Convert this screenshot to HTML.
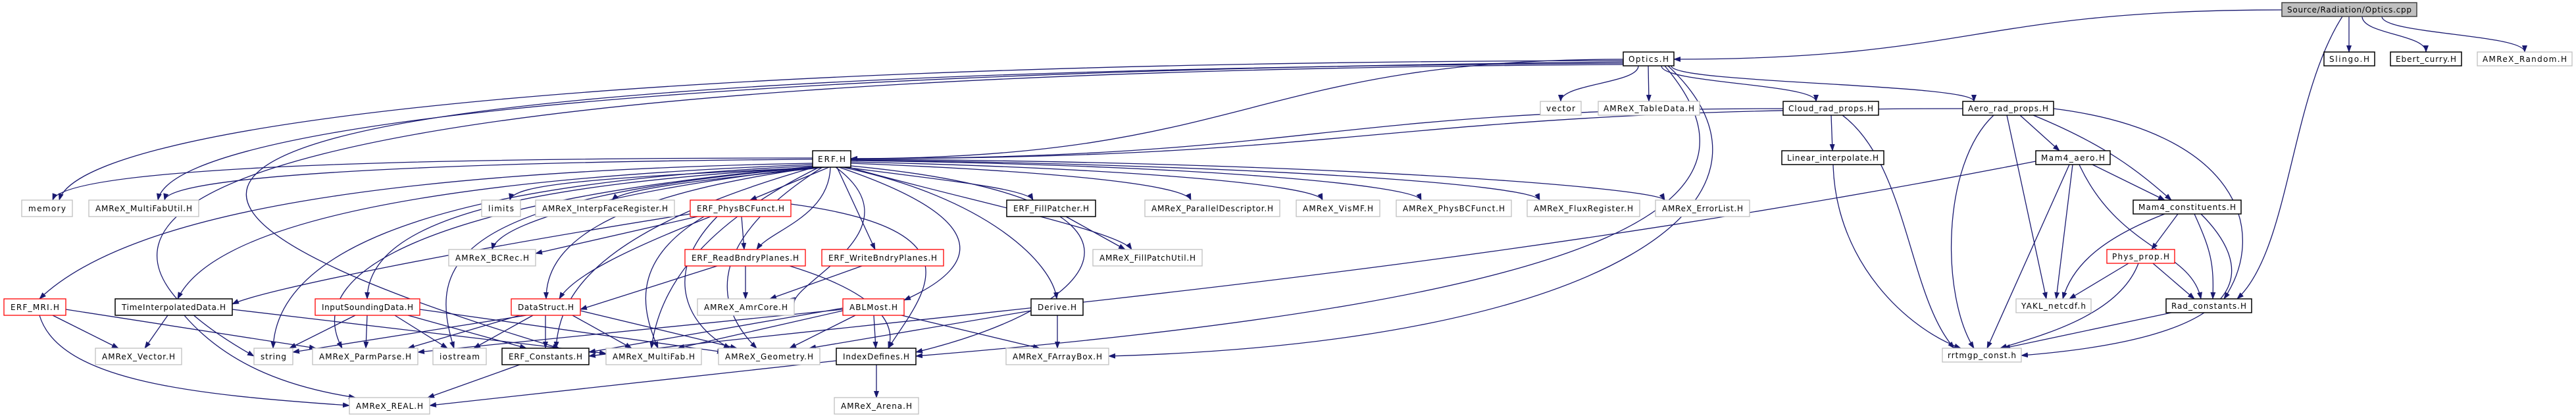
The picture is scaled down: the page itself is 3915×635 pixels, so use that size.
<!DOCTYPE html>
<html><head><meta charset="utf-8">
<style>
html,body{margin:0;padding:0;background:#fff;}
svg{display:block;}
text{font-family:"DejaVu Sans","Liberation Sans",sans-serif;font-size:12px;fill:#000;}
</style></head>
<body>
<svg width="3915" height="635" viewBox="0 0 3915 635" xmlns="http://www.w3.org/2000/svg">
<defs>
<marker id="a" markerWidth="11" markerHeight="8" refX="10" refY="4" orient="auto" markerUnits="userSpaceOnUse">
<path d="M0,0 L11,4 L0,8 z" fill="#191970"/>
</marker>
</defs>
<g fill="none" stroke="#191970" stroke-width="1.3" marker-end="url(#a)">
<path d="M3468,15 C3000,15 3000,90 2544,90"/>
<path d="M2467,90 C1900,90 1900,241 1293,241"/>
<path d="M2710,165 C2000,165 2000,241 1293,241"/>
<path d="M2983,165 C2100,165 2100,241 1293,241"/>
<path d="M3570,25 L3570,79"/>
<path d="M3590,25 C3590,52 3687,52 3687,79"/>
<path d="M3620,25 C3620,52 3837,52 3837,79"/>
<path d="M3560,25 C3480,150 3480,380 3400,454"/>
<path d="M2467,92 C800,95 120,200 90,304"/>
<path d="M2467,94 C900,110 260,200 240,304"/>
<path d="M2490,100 C2490,127 2372,127 2372,154"/>
<path d="M2505,100 L2506,154"/>
<path d="M2525,100 C2525,127 2760,127 2760,154"/>
<path d="M2540,100 C2540,127 3000,127 3000,154"/>
<path d="M2530,100 C2700,300 2500,450 1392,541"/>
<path d="M2535,100 C2750,300 2450,520 1685,541"/>
<path d="M2467,96 C300,110 -80,250 850,529"/>
<path d="M2467,98 C400,110 -40,300 386,541"/>
<path d="M2783,175 L2785,229"/>
<path d="M2800,175 C2900,250 2900,450 2970,529"/>
<path d="M2786,250 C2790,400 2900,500 2980,529"/>
<path d="M3030,175 C2950,250 2950,450 3000,529"/>
<path d="M3050,175 L3110,454"/>
<path d="M3070,175 L3130,229"/>
<path d="M3090,175 C3200,220 3250,260 3300,304"/>
<path d="M3121,165 C3400,200 3450,350 3380,454"/>
<path d="M3145,250 L3020,529"/>
<path d="M3150,250 L3125,454"/>
<path d="M3180,250 L3290,304"/>
<path d="M3160,250 C3220,380 3330,380 3345,454"/>
<path d="M3094,245 C2200,420 1400,480 895,541"/>
<path d="M3310,325 L3270,379"/>
<path d="M3290,325 C3200,360 3150,400 3135,454"/>
<path d="M3335,325 C3360,380 3365,400 3363,454"/>
<path d="M3345,325 C3420,400 3450,510 3072,540"/>
<path d="M3235,400 L3145,454"/>
<path d="M3272,400 L3335,454"/>
<path d="M3250,400 C3220,480 3100,510 3040,529"/>
<path d="M3300,475 L3045,529"/>
<path d="M1235,240 C700,240 100,250 80,304"/>
<path d="M1235,242 C800,245 260,260 250,304"/>
<path d="M1250,254 C900,270 780,280 775,304"/>
<path d="M1255,254 C1100,270 950,285 930,304"/>
<path d="M1260,254 L1140,304"/>
<path d="M1262,254 C1260,330 1170,350 1150,379"/>
<path d="M1272,254 L1330,379"/>
<path d="M1285,254 C1400,270 1560,285 1570,304"/>
<path d="M1293,248 C1600,260 1800,280 1810,304"/>
<path d="M1293,246 C1700,255 2000,280 2010,304"/>
<path d="M1293,244 C1800,250 2150,280 2160,304"/>
<path d="M1293,243 C1900,250 2330,280 2340,304"/>
<path d="M1293,242 C2000,245 2520,285 2530,304"/>
<path d="M1240,254 C1000,280 760,330 748,379"/>
<path d="M1235,248 C600,260 200,320 60,454"/>
<path d="M1235,250 C700,270 330,330 270,454"/>
<path d="M1238,254 C800,280 560,330 558,454"/>
<path d="M1242,254 C900,300 830,380 830,454"/>
<path d="M1236,252 C600,280 420,400 415,529"/>
<path d="M1237,253 C700,300 450,400 520,529"/>
<path d="M1240,254 C680,300 650,400 690,529"/>
<path d="M1290,254 C1450,300 1700,350 1720,379"/>
<path d="M1280,254 C1500,300 1600,400 1606,454"/>
<path d="M1275,254 C1500,330 1500,400 1374,456"/>
<path d="M1293,252 C1800,300 1700,460 1392,535"/>
<path d="M1270,254 C1400,350 1200,430 1207,462"/>
<path d="M1250,254 C1050,380 1100,480 1150,529"/>
<path d="M1245,254 C1050,350 1000,450 990,529"/>
<path d="M1238,254 C900,350 850,450 845,529"/>
<path d="M1127,329 L1131,379"/>
<path d="M1080,329 C950,380 870,420 850,454"/>
<path d="M1060,329 L814,385"/>
<path d="M1202,310 C1500,350 1400,450 1350,529"/>
<path d="M1090,329 C1000,420 1050,500 1110,529"/>
<path d="M1070,329 C950,400 980,480 1000,529"/>
<path d="M1049,325 C700,380 400,440 353,462"/>
<path d="M1133,404 L1133,454"/>
<path d="M1090,404 L882,470"/>
<path d="M1200,404 C1350,450 1360,500 1350,529"/>
<path d="M1310,404 L1170,454"/>
<path d="M1620,329 L1710,379"/>
<path d="M80,479 L180,529"/>
<path d="M60,479 C90,580 300,600 531,616"/>
<path d="M100,470 L480,529"/>
<path d="M255,479 L220,529"/>
<path d="M280,479 C350,560 450,590 540,604"/>
<path d="M353,470 L921,537"/>
<path d="M540,479 L440,529"/>
<path d="M558,479 L556,529"/>
<path d="M600,479 L680,529"/>
<path d="M620,479 L800,529"/>
<path d="M638,470 L1100,535"/>
<path d="M800,479 L445,535"/>
<path d="M790,479 L620,529"/>
<path d="M810,479 L720,529"/>
<path d="M829,479 L829,529"/>
<path d="M870,479 L960,529"/>
<path d="M882,472 L1120,529"/>
<path d="M1281,470 L635,535"/>
<path d="M1281,472 L1030,529"/>
<path d="M1300,479 L1200,529"/>
<path d="M1328,479 L1331,529"/>
<path d="M1370,479 L1580,529"/>
<path d="M1281,468 L895,535"/>
<path d="M1607,479 L1607,529"/>
<path d="M1567,472 L1230,529"/>
<path d="M790,554 L650,604"/>
<path d="M1332,554 L1332,604"/>
<path d="M1271,548 L653,616"/>
</g>
<g>
<rect x="3468" y="4" width="205" height="21" fill="#bfbfbf" stroke="#404040" stroke-width="1.5"/><text x="3570.5" y="19" text-anchor="middle" textLength="189">Source/Radiation/Optics.cpp</text>
<rect x="2467" y="79" width="77" height="21" fill="#fff" stroke="#000" stroke-width="1.5"/><text x="2505.5" y="94" text-anchor="middle" textLength="61">Optics.H</text>
<rect x="3532" y="79" width="77" height="21" fill="#fff" stroke="#000" stroke-width="1.5"/><text x="3570.5" y="94" text-anchor="middle" textLength="61">Slingo.H</text>
<rect x="3633" y="79" width="108" height="21" fill="#fff" stroke="#000" stroke-width="1.5"/><text x="3687" y="94" text-anchor="middle" textLength="92">Ebert_curry.H</text>
<rect x="3765" y="79" width="144" height="21" fill="#fff" stroke="#bfbfbf" stroke-width="1.3"/><text x="3837" y="94" text-anchor="middle" textLength="128">AMReX_Random.H</text>
<rect x="2341" y="154" width="62" height="21" fill="#fff" stroke="#bfbfbf" stroke-width="1.3"/><text x="2372" y="169" text-anchor="middle" textLength="44">vector</text>
<rect x="2429" y="154" width="154" height="21" fill="#fff" stroke="#bfbfbf" stroke-width="1.3"/><text x="2506" y="169" text-anchor="middle" textLength="138">AMReX_TableData.H</text>
<rect x="2710" y="154" width="145" height="21" fill="#fff" stroke="#000" stroke-width="1.5"/><text x="2782.5" y="169" text-anchor="middle" textLength="129">Cloud_rad_props.H</text>
<rect x="2983" y="154" width="138" height="21" fill="#fff" stroke="#000" stroke-width="1.5"/><text x="3052" y="169" text-anchor="middle" textLength="122">Aero_rad_props.H</text>
<rect x="1235" y="229" width="58" height="25" fill="#fff" stroke="#000" stroke-width="1.5"/><text x="1264" y="246" text-anchor="middle" textLength="42">ERF.H</text>
<rect x="2708" y="229" width="155" height="21" fill="#fff" stroke="#000" stroke-width="1.5"/><text x="2785.5" y="244" text-anchor="middle" textLength="139">Linear_interpolate.H</text>
<rect x="3094" y="229" width="113" height="21" fill="#fff" stroke="#000" stroke-width="1.5"/><text x="3150.5" y="244" text-anchor="middle" textLength="97">Mam4_aero.H</text>
<rect x="33" y="304" width="77" height="25" fill="#fff" stroke="#bfbfbf" stroke-width="1.3"/><text x="71.5" y="321" text-anchor="middle" textLength="57">memory</text>
<rect x="135" y="304" width="167" height="25" fill="#fff" stroke="#bfbfbf" stroke-width="1.3"/><text x="218.5" y="321" text-anchor="middle" textLength="147">AMReX_MultiFabUtil.H</text>
<rect x="732" y="304" width="59" height="25" fill="#fff" stroke="#bfbfbf" stroke-width="1.3"/><text x="761.5" y="321" text-anchor="middle" textLength="39">limits</text>
<rect x="814" y="304" width="211" height="25" fill="#fff" stroke="#bfbfbf" stroke-width="1.3"/><text x="919.5" y="321" text-anchor="middle" textLength="191">AMReX_InterpFaceRegister.H</text>
<rect x="1049" y="304" width="153" height="25" fill="#fff" stroke="#f00" stroke-width="1.3"/><text x="1125.5" y="321" text-anchor="middle" textLength="133">ERF_PhysBCFunct.H</text>
<rect x="1530" y="304" width="135" height="25" fill="#fff" stroke="#000" stroke-width="1.5"/><text x="1597.5" y="321" text-anchor="middle" textLength="115">ERF_FillPatcher.H</text>
<rect x="1740" y="304" width="205" height="25" fill="#fff" stroke="#bfbfbf" stroke-width="1.3"/><text x="1842.5" y="321" text-anchor="middle" textLength="185">AMReX_ParallelDescriptor.H</text>
<rect x="1970" y="304" width="127" height="25" fill="#fff" stroke="#bfbfbf" stroke-width="1.3"/><text x="2033.5" y="321" text-anchor="middle" textLength="107">AMReX_VisMF.H</text>
<rect x="2122" y="304" width="175" height="25" fill="#fff" stroke="#bfbfbf" stroke-width="1.3"/><text x="2209.5" y="321" text-anchor="middle" textLength="155">AMReX_PhysBCFunct.H</text>
<rect x="2321" y="304" width="171" height="25" fill="#fff" stroke="#bfbfbf" stroke-width="1.3"/><text x="2406.5" y="321" text-anchor="middle" textLength="151">AMReX_FluxRegister.H</text>
<rect x="2516" y="304" width="143" height="25" fill="#fff" stroke="#bfbfbf" stroke-width="1.3"/><text x="2587.5" y="321" text-anchor="middle" textLength="123">AMReX_ErrorList.H</text>
<rect x="3242" y="304" width="164" height="21" fill="#fff" stroke="#000" stroke-width="1.5"/><text x="3324" y="319" text-anchor="middle" textLength="148">Mam4_constituents.H</text>
<rect x="682" y="379" width="132" height="25" fill="#fff" stroke="#bfbfbf" stroke-width="1.3"/><text x="748" y="396" text-anchor="middle" textLength="112">AMReX_BCRec.H</text>
<rect x="1041" y="379" width="183" height="25" fill="#fff" stroke="#f00" stroke-width="1.3"/><text x="1132.5" y="396" text-anchor="middle" textLength="163">ERF_ReadBndryPlanes.H</text>
<rect x="1249" y="379" width="185" height="25" fill="#fff" stroke="#f00" stroke-width="1.3"/><text x="1341.5" y="396" text-anchor="middle" textLength="165">ERF_WriteBndryPlanes.H</text>
<rect x="1661" y="379" width="166" height="25" fill="#fff" stroke="#bfbfbf" stroke-width="1.3"/><text x="1744" y="396" text-anchor="middle" textLength="146">AMReX_FillPatchUtil.H</text>
<rect x="3202" y="379" width="103" height="21" fill="#fff" stroke="#f00" stroke-width="1.3"/><text x="3253.5" y="394" text-anchor="middle" textLength="87">Phys_prop.H</text>
<rect x="6" y="454" width="94" height="25" fill="#fff" stroke="#f00" stroke-width="1.3"/><text x="53" y="471" text-anchor="middle" textLength="74">ERF_MRI.H</text>
<rect x="175" y="454" width="178" height="25" fill="#fff" stroke="#000" stroke-width="1.5"/><text x="264" y="471" text-anchor="middle" textLength="158">TimeInterpolatedData.H</text>
<rect x="479" y="454" width="159" height="25" fill="#fff" stroke="#f00" stroke-width="1.3"/><text x="558.5" y="471" text-anchor="middle" textLength="139">InputSoundingData.H</text>
<rect x="777" y="454" width="105" height="25" fill="#fff" stroke="#f00" stroke-width="1.3"/><text x="829.5" y="471" text-anchor="middle" textLength="85">DataStruct.H</text>
<rect x="1060" y="454" width="147" height="25" fill="#fff" stroke="#bfbfbf" stroke-width="1.3"/><text x="1133.5" y="471" text-anchor="middle" textLength="127">AMReX_AmrCore.H</text>
<rect x="1281" y="454" width="93" height="25" fill="#fff" stroke="#f00" stroke-width="1.3"/><text x="1327.5" y="471" text-anchor="middle" textLength="73">ABLMost.H</text>
<rect x="1567" y="454" width="79" height="25" fill="#fff" stroke="#000" stroke-width="1.5"/><text x="1606.5" y="471" text-anchor="middle" textLength="59">Derive.H</text>
<rect x="3064" y="454" width="114" height="21" fill="#fff" stroke="#bfbfbf" stroke-width="1.3"/><text x="3121" y="469" text-anchor="middle" textLength="98">YAKL_netcdf.h</text>
<rect x="3292" y="454" width="130" height="21" fill="#fff" stroke="#000" stroke-width="1.5"/><text x="3357" y="469" text-anchor="middle" textLength="114">Rad_constants.H</text>
<rect x="145" y="529" width="131" height="25" fill="#fff" stroke="#bfbfbf" stroke-width="1.3"/><text x="210.5" y="546" text-anchor="middle" textLength="111">AMReX_Vector.H</text>
<rect x="386" y="529" width="59" height="25" fill="#fff" stroke="#bfbfbf" stroke-width="1.3"/><text x="415.5" y="546" text-anchor="middle" textLength="39">string</text>
<rect x="475" y="529" width="160" height="25" fill="#fff" stroke="#bfbfbf" stroke-width="1.3"/><text x="555" y="546" text-anchor="middle" textLength="140">AMReX_ParmParse.H</text>
<rect x="658" y="529" width="81" height="25" fill="#fff" stroke="#bfbfbf" stroke-width="1.3"/><text x="698.5" y="546" text-anchor="middle" textLength="61">iostream</text>
<rect x="763" y="529" width="132" height="25" fill="#fff" stroke="#000" stroke-width="1.5"/><text x="829" y="546" text-anchor="middle" textLength="112">ERF_Constants.H</text>
<rect x="921" y="529" width="145" height="25" fill="#fff" stroke="#bfbfbf" stroke-width="1.3"/><text x="993.5" y="546" text-anchor="middle" textLength="125">AMReX_MultiFab.H</text>
<rect x="1092" y="529" width="154" height="25" fill="#fff" stroke="#bfbfbf" stroke-width="1.3"/><text x="1169" y="546" text-anchor="middle" textLength="134">AMReX_Geometry.H</text>
<rect x="1271" y="529" width="121" height="25" fill="#fff" stroke="#000" stroke-width="1.5"/><text x="1331.5" y="546" text-anchor="middle" textLength="101">IndexDefines.H</text>
<rect x="1529" y="529" width="156" height="25" fill="#fff" stroke="#bfbfbf" stroke-width="1.3"/><text x="1607" y="546" text-anchor="middle" textLength="136">AMReX_FArrayBox.H</text>
<rect x="2952" y="529" width="120" height="21" fill="#fff" stroke="#bfbfbf" stroke-width="1.3"/><text x="3012" y="544" text-anchor="middle" textLength="104">rrtmgp_const.h</text>
<rect x="531" y="604" width="122" height="25" fill="#fff" stroke="#bfbfbf" stroke-width="1.3"/><text x="592" y="621" text-anchor="middle" textLength="102">AMReX_REAL.H</text>
<rect x="1268" y="604" width="128" height="25" fill="#fff" stroke="#bfbfbf" stroke-width="1.3"/><text x="1332" y="621" text-anchor="middle" textLength="108">AMReX_Arena.H</text>
</g>
</svg>
</body></html>
